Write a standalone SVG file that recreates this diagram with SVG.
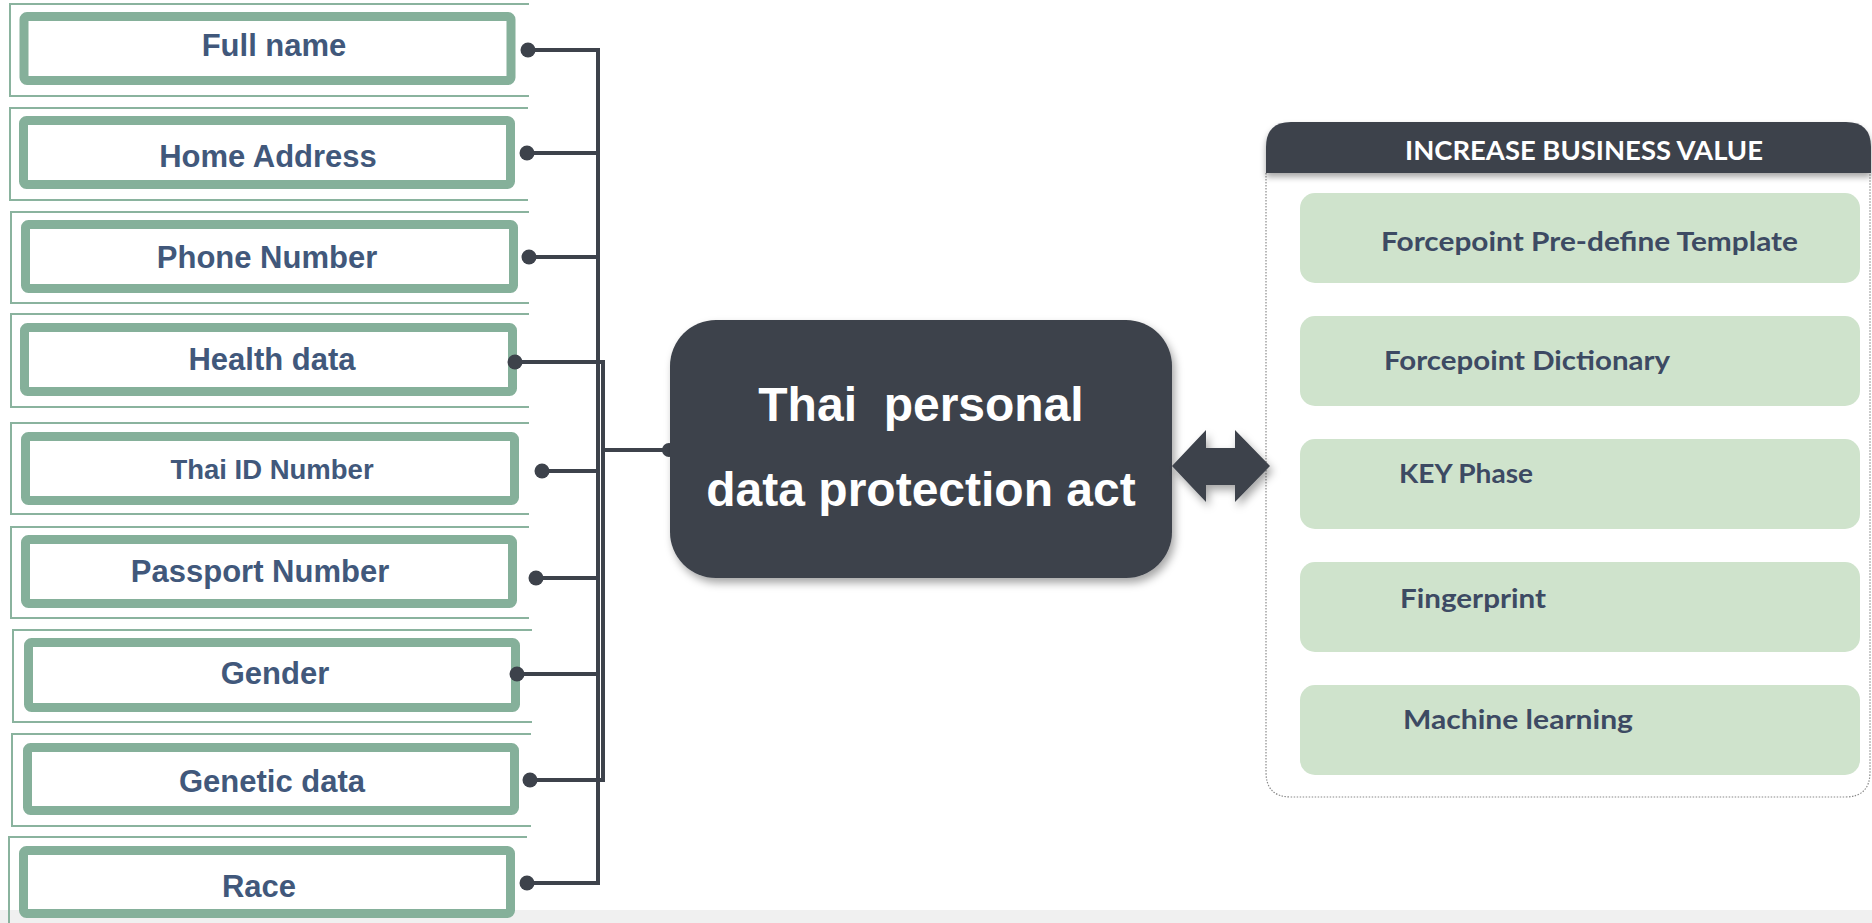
<svg xmlns="http://www.w3.org/2000/svg" width="1872" height="923" viewBox="0 0 1872 923">
  <style>
    .frame { fill: none; stroke: #8ab39e; stroke-width: 2; }
    .box { fill: #ffffff; stroke: #85b09a; stroke-width: 9; }
    .lbl { font-family: "Liberation Sans", Arial, sans-serif; font-weight: bold; font-size: 31px; fill: #41587b; text-anchor: middle; }
    .wire { fill: none; stroke: #3d424b; stroke-width: 4; }
    .dot { fill: #3d424b; }
    .item { fill: #cfe3cc; }
    .itxt { font-family: Lato, "Open Sans", sans-serif; font-weight: bold; font-size: 27px; fill: #3d4a63; }
    .act { font-family: "Liberation Sans", Arial, sans-serif; font-weight: bold; font-size: 48px; fill: #ffffff; text-anchor: middle; white-space: pre; }
  </style>
  <defs>
    <filter id="shadow" x="-10%" y="-10%" width="130%" height="130%">
      <feDropShadow dx="3" dy="5" stdDeviation="4" flood-color="#000" flood-opacity="0.35"/>
    </filter>
    <filter id="hshadow" x="-5%" y="-20%" width="110%" height="160%">
      <feDropShadow dx="0" dy="4" stdDeviation="3" flood-color="#000" flood-opacity="0.35"/>
    </filter>
  </defs>

  <rect width="1872" height="923" fill="#ffffff"/>
  <rect x="0" y="910" width="1872" height="13" fill="#f0f0f0"/>

  <!-- personal data fields -->
  <g id="field-full-name">
    <path class="frame" d="M529,4 H10 V96 H529"/>
    <rect class="box" x="24" y="16.5" width="487" height="64" rx="3"/>
    <text class="lbl" x="274" y="56">Full name</text>
  </g>
  <g id="field-home-address">
    <path class="frame" d="M528,108 H10 V200 H528"/>
    <rect class="box" x="23.5" y="120.5" width="487" height="64" rx="3"/>
    <text class="lbl" x="268" y="167">Home Address</text>
  </g>
  <g id="field-phone-number">
    <path class="frame" d="M529,212 H11 V303 H529"/>
    <rect class="box" x="25.5" y="224.5" width="488" height="64" rx="3"/>
    <text class="lbl" x="267" y="268">Phone Number</text>
  </g>
  <g id="field-health-data">
    <path class="frame" d="M529,314 H11 V407 H529"/>
    <rect class="box" x="24.5" y="327.5" width="488" height="64" rx="3"/>
    <text class="lbl" x="272" y="370">Health data</text>
  </g>
  <g id="field-thai-id">
    <path class="frame" d="M529,423 H11 V514 H529"/>
    <rect class="box" x="25.5" y="436.5" width="489" height="64" rx="3"/>
    <text class="lbl" x="272" y="479" style="font-size:27.5px">Thai ID Number</text>
  </g>
  <g id="field-passport-number">
    <path class="frame" d="M529,527 H11 V618 H529"/>
    <rect class="box" x="25.5" y="539.5" width="487" height="64" rx="3"/>
    <text class="lbl" x="260" y="582">Passport Number</text>
  </g>
  <g id="field-gender">
    <path class="frame" d="M532,630 H13 V722 H532"/>
    <rect class="box" x="28.5" y="642.5" width="487" height="65" rx="3"/>
    <text class="lbl" x="275" y="684">Gender</text>
  </g>
  <g id="field-genetic-data">
    <path class="frame" d="M531,734 H12 V826 H531"/>
    <rect class="box" x="27.5" y="747.5" width="487" height="63" rx="3"/>
    <text class="lbl" x="272" y="792">Genetic data</text>
  </g>
  <g id="field-race">
    <path class="frame" d="M527,837 H9 V923"/>
    <rect class="box" x="23.5" y="850.5" width="487" height="63" rx="3"/>
    <text class="lbl" x="259" y="897">Race</text>
  </g>

  <!-- connectors from the fields to the act -->
  <g id="connectors">
    <path class="wire" d="M528,50 H598 V883 H527"/>
    <path class="wire" d="M527,153 H598"/>
    <path class="wire" d="M529,257 H598"/>
    <path class="wire" d="M515,362 H603 V780 H530"/>
    <path class="wire" d="M542,471 H598"/>
    <path class="wire" d="M536,578 H598"/>
    <path class="wire" d="M517,674 H598"/>
    <path class="wire" d="M603,450 H668"/>
    <circle class="dot" cx="528" cy="50" r="7.5"/>
    <circle class="dot" cx="527" cy="153" r="7.5"/>
    <circle class="dot" cx="529" cy="257" r="7.5"/>
    <circle class="dot" cx="515" cy="362" r="7.5"/>
    <circle class="dot" cx="542" cy="471" r="7.5"/>
    <circle class="dot" cx="536" cy="578" r="7.5"/>
    <circle class="dot" cx="517" cy="674" r="7.5"/>
    <circle class="dot" cx="530" cy="780" r="7.5"/>
    <circle class="dot" cx="527" cy="883" r="7.5"/>
    <circle class="dot" cx="669" cy="450" r="7"/>
  </g>

  <!-- central act -->
  <g id="act">
    <rect x="670" y="320" width="502" height="258" rx="46" fill="#3d424b" filter="url(#shadow)"/>
    <text class="act" x="921" y="421">Thai  personal</text>
    <text class="act" x="921" y="506">data protection act</text>
  </g>

  <!-- business value panel -->
  <g id="business-value">
    <path d="M1266,173 V772 Q1266,797 1291,797 H1845 Q1870,797 1870,772 V173" fill="none" stroke="#8a8a8a" stroke-width="1.2" stroke-dasharray="1.5,1.5"/>
    <path d="M1266,173 V147 Q1266,122 1291,122 H1846 Q1871,122 1871,147 V173 Z" fill="#3d424b" filter="url(#hshadow)"/>
    <text x="1405" y="160" textLength="358" lengthAdjust="spacingAndGlyphs" style="font-family:Lato,'Open Sans',sans-serif;font-weight:bold;font-size:27px;fill:#ffffff">INCREASE BUSINESS VALUE</text>
  </g>
  <g id="item-template">
    <rect class="item" x="1300" y="193" width="560" height="90" rx="15"/>
    <text class="itxt" x="1381" y="251" textLength="417" lengthAdjust="spacingAndGlyphs">Forcepoint Pre-define Template</text>
  </g>
  <g id="item-dictionary">
    <rect class="item" x="1300" y="316" width="560" height="90" rx="15"/>
    <text class="itxt" x="1384" y="370" textLength="286" lengthAdjust="spacingAndGlyphs">Forcepoint Dictionary</text>
  </g>
  <g id="item-key-phase">
    <rect class="item" x="1300" y="439" width="560" height="90" rx="15"/>
    <text class="itxt" x="1399" y="483" textLength="134" lengthAdjust="spacingAndGlyphs">KEY Phase</text>
  </g>
  <g id="item-fingerprint">
    <rect class="item" x="1300" y="562" width="560" height="90" rx="15"/>
    <text class="itxt" x="1400" y="608" textLength="146" lengthAdjust="spacingAndGlyphs">Fingerprint</text>
  </g>
  <g id="item-machine-learning">
    <rect class="item" x="1300" y="685" width="560" height="90" rx="15"/>
    <text class="itxt" x="1403" y="729" textLength="230" lengthAdjust="spacingAndGlyphs">Machine learning</text>
  </g>

  <!-- two-way link between the act and the panel -->
  <g id="link-arrow">
    <polygon points="1172,466 1206,430 1206,448 1235,448 1235,430 1270,466 1235,502 1235,485 1206,485 1206,502" fill="#3d424b" filter="url(#shadow)"/>
  </g>
</svg>
